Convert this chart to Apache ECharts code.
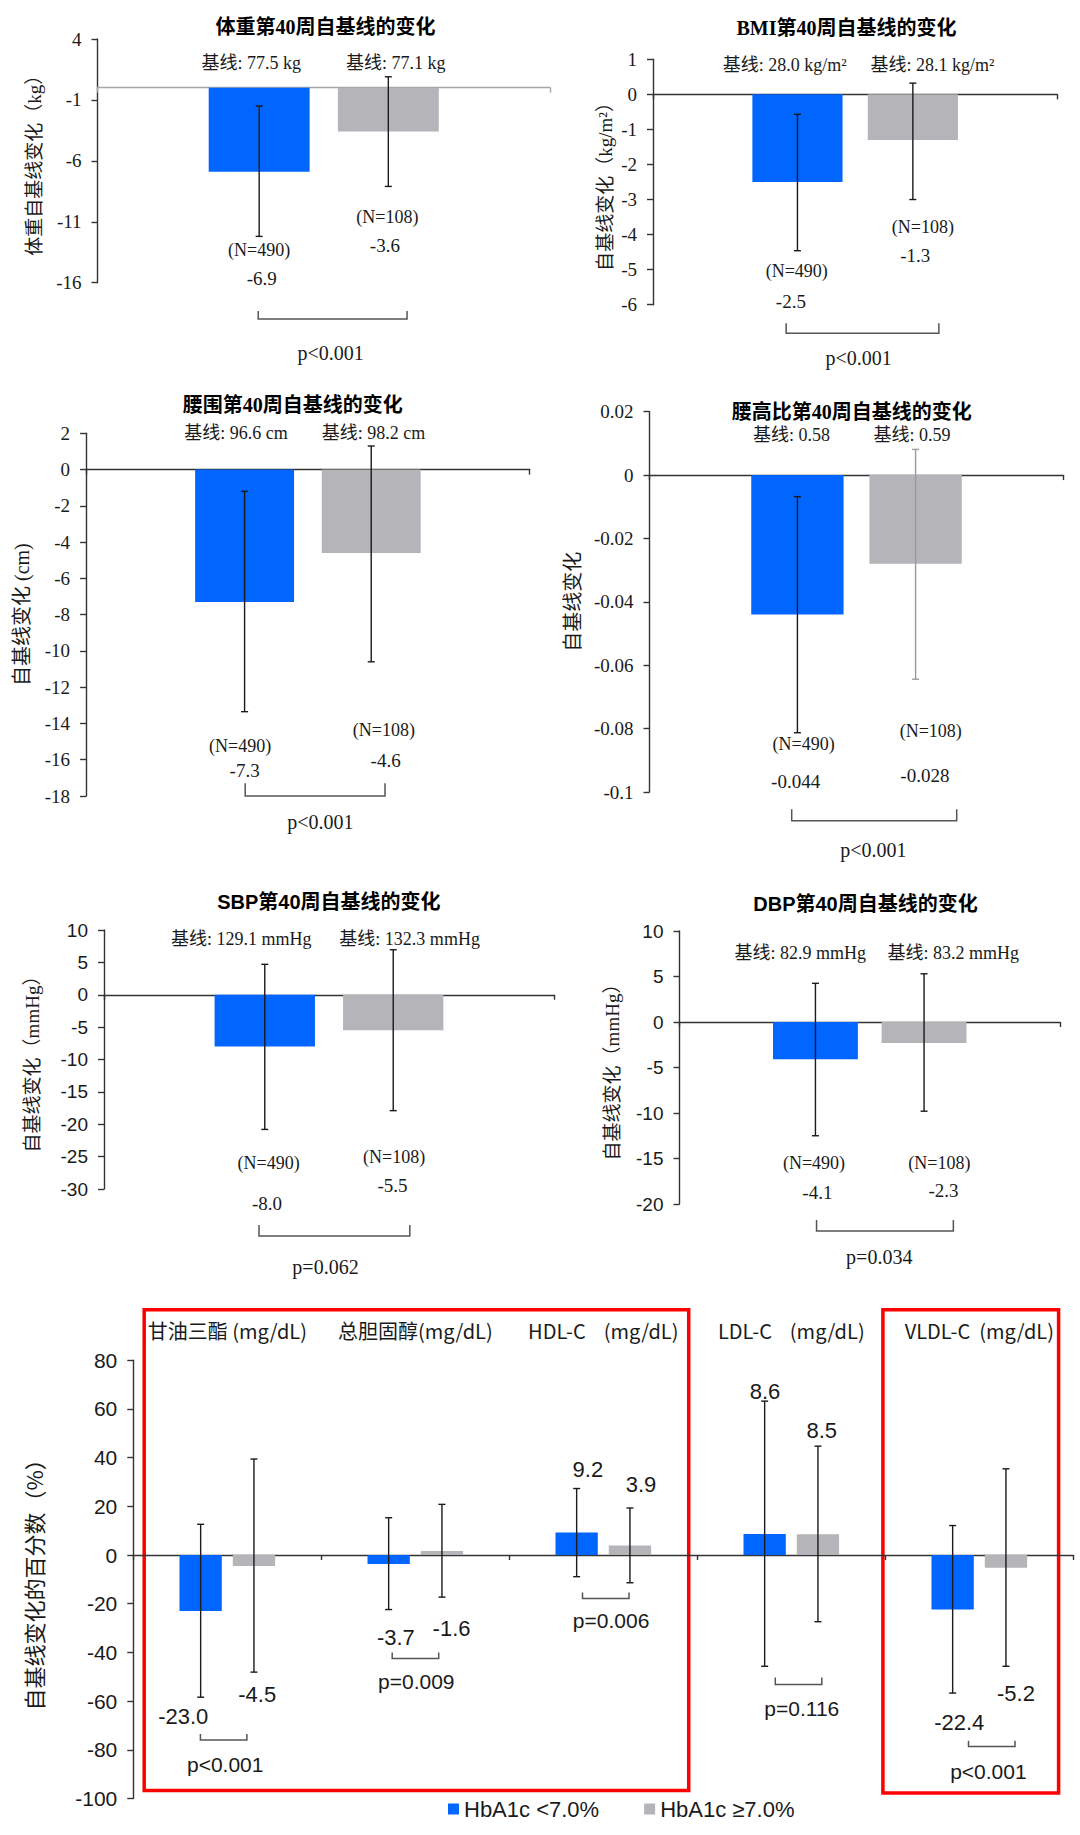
<!DOCTYPE html>
<html>
<head>
<meta charset="utf-8">
<script src="https://cdn.jsdelivr.net/npm/echarts@6/dist/echarts.min.js"></script>
<style>
html,body{margin:0;padding:0;background:#fff;}
#c{width:1080px;height:1835px;}
</style>
</head>
<body>
<div id="c"></div>
<script>
// ================= DATA =================
const groupNames = ['HbA1c <7.0%', 'HbA1c ≥7.0%'];
const groupN = [490, 108];

const panelTitles = ['体重第40周自基线的变化', 'BMI第40周自基线的变化', '腰围第40周自基线的变化',
                     '腰高比第40周自基线的变化', 'SBP第40周自基线的变化', 'DBP第40周自基线的变化'];
const axisNames = ['体重自基线变化（kg）', '自基线变化（kg/m²）', '自基线变化 (cm)', '自基线变化',
                   '自基线变化（mmHg）', '自基线变化（mmHg）', '自基线变化的百分数（%）'];

// 1 体重 (kg)
const weightTicks = [-16, -11, -6, -1, 4];
const weightChange = [-6.9, -3.6];
const weightErrLow = [-12.2, -8.1];
const weightErrHigh = [-1.5, 0.9];
const weightBaseline = ['77.5 kg', '77.1 kg'];
const weightP = ['p<0.001'];

// 2 BMI (kg/m2)
const bmiTicks = [-6, -5, -4, -3, -2, -1, 0, 1];
const bmiChange = [-2.5, -1.3];
const bmiErrLow = [-4.46, -3.0];
const bmiErrHigh = [-0.57, 0.32];
const bmiBaseline = ['28.0 kg/m²', '28.1 kg/m²'];
const bmiP = ['p<0.001'];

// 3 腰围 (cm)
const waistTicks = [-18, -16, -14, -12, -10, -8, -6, -4, -2, 0, 2];
const waistChange = [-7.3, -4.6];
const waistErrLow = [-13.35, -10.6];
const waistErrHigh = [-1.2, 1.3];
const waistBaseline = ['96.6 cm', '98.2 cm'];
const waistP = ['p<0.001'];

// 4 腰高比
const whtrTicks = [-0.1, -0.08, -0.06, -0.04, -0.02, 0, 0.02];
const whtrChange = [-0.044, -0.028];
const whtrErrLow = [-0.0813, -0.0644];
const whtrErrHigh = [-0.0068, 0.0081];
const whtrBaseline = ['0.58', '0.59'];
const whtrP = ['p<0.001'];

// 5 SBP (mmHg)
const sbpTicks = [-30, -25, -20, -15, -10, -5, 0, 5, 10];
const sbpChange = [-8.0, -5.5];
const sbpErrLow = [-20.8, -17.9];
const sbpErrHigh = [4.7, 6.95];
const sbpBaseline = ['129.1 mmHg', '132.3 mmHg'];
const sbpP = ['p=0.062'];

// 6 DBP (mmHg)
const dbpTicks = [-20, -15, -10, -5, 0, 5, 10];
const dbpChange = [-4.1, -2.3];
const dbpErrLow = [-12.5, -9.8];
const dbpErrHigh = [4.25, 5.3];
const dbpBaseline = ['82.9 mmHg', '83.2 mmHg'];
const dbpP = ['p=0.034'];

// 7 血脂 (% change)
const lipidTicks = [-100, -80, -60, -40, -20, 0, 20, 40, 60, 80];
const lipidCategories = ['甘油三酯 (mg/dL)', '总胆固醇(mg/dL)', 'HDL-C    (mg/dL)', 'LDL-C    (mg/dL)', 'VLDL-C  (mg/dL)'];
const lipidBlue = [-23.0, -3.7, 9.2, 8.6, -22.4];
const lipidGray = [-4.5, 1.6, 3.9, 8.5, -5.2];
const lipidBlueLabels = ['-23.0', '-3.7', '9.2', '8.6', '-22.4'];
const lipidGrayLabels = ['-4.5', '-1.6', '3.9', '8.5', '-5.2'];
const lipidBlueErrLow = [-58.4, -22.4, -8.9, -45.7, -56.7];
const lipidBlueErrHigh = [12.6, 15.3, 27.3, 63.2, 12.1];
const lipidGrayErrLow = [-48.1, -17.3, -11.4, -27.4, -45.7];
const lipidGrayErrHigh = [39.4, 20.8, 19.3, 44.7, 35.4];
const lipidP = ['p<0.001', 'p=0.009', 'p=0.006', 'p=0.116', 'p<0.001'];

// ================= STYLE / LAYOUT =================
const SERIF = "'Liberation Serif','Times New Roman','Noto Sans CJK SC',serif";
const SANS = "'Liberation Sans',Arial,'Noto Sans CJK SC',sans-serif";
const CJK = "'Noto Sans CJK SC','Liberation Sans',sans-serif";
const BLUE = '#0066FF';
const GRAY = '#B4B4B9';
const TXT = '#1a1a1a';

const serifAnn = { value: { size: 19, family: SERIF }, n: { size: 18, family: SERIF },
                   base: { size: 18, family: SERIF }, p: { size: 20, family: SERIF } };

const panels = [
  { values: weightChange, low: [weightErrLow], high: [weightErrHigh], baseline: weightBaseline, p: weightP, ticks: weightTicks, dec: 1,
    L: { grid: { left: 97.5, top: 39, width: 452.5, height: 243.7 }, bw: 0.223, gap: 0.28,
      zeroColor: '#A6A6A6', tickFont: SERIF, tickSize: 19, nameSize: 19, nameFont: SERIF, nameX: 34.4,
      title: { x: 325.5, y: 26.7, font: SERIF },
      vDx: [[2.5], [-3.5]], vY: [[278.3], [245]], nDx: [[0], [-1]], nY: [[250], [217.3]],
      bDx: [-8, 7.5], bY: 62.7, brX1: [-65.5], brX2: [83.3], brTop: [311], brBot: [319],
      pDx: [6.9], pY: [353.3], ann: serifAnn } },
  { values: bmiChange, low: [bmiErrLow], high: [bmiErrHigh], baseline: bmiBaseline, p: bmiP, ticks: bmiTicks, dec: 1,
    L: { grid: { left: 653, top: 59.3, width: 404.3, height: 245.4 }, bw: 0.223, gap: 0.28,
      zeroColor: '#333', tickFont: SERIF, tickSize: 19, nameSize: 19, nameFont: SERIF, nameX: 605.4,
      title: { x: 846.5, y: 28.3, font: SERIF },
      vDx: [[-6.6], [2.4]], vY: [[301.7], [255]], nDx: [[-0.7], [10]], nY: [[270.7], [226.7]],
      bDx: [-12.8, 19.6], bY: 65, brX1: [-69], brX2: [83.7], brTop: [323.3], brBot: [333.3],
      pDx: [3.5], pY: [358.3], ann: serifAnn } },
  { values: waistChange, low: [waistErrLow], high: [waistErrHigh], baseline: waistBaseline, p: waistP, ticks: waistTicks, dec: 1,
    L: { grid: { left: 86.1, top: 433.3, width: 443.6, height: 362.7 }, bw: 0.223, gap: 0.28,
      zeroColor: '#333', tickFont: SERIF, tickSize: 19, nameSize: 20, nameFont: SERIF, nameX: 22.4,
      title: { x: 292.7, y: 405, font: SERIF },
      vDx: [[0], [14.4]], vY: [[770], [760]], nDx: [[-4.5], [12.7]], nY: [[745.7], [730]],
      bDx: [-8.6, 2.4], bY: 433.3, brX1: [-62.7], brX2: [77.1], brTop: [783.3], brBot: [796],
      pDx: [12.4], pY: [821.7], ann: serifAnn } },
  { values: whtrChange, low: [whtrErrLow], high: [whtrErrHigh], baseline: whtrBaseline, p: whtrP, ticks: whtrTicks, dec: 3,
    L: { grid: { left: 649.5, top: 411.7, width: 414, height: 380.3 }, bw: 0.223, gap: 0.28,
      zeroColor: '#333', tickFont: SERIF, tickSize: 19, nameSize: 20, nameFont: CJK, nameX: 571,
      title: { x: 851.7, y: 411.7, font: SERIF }, errColor: ['#1a1a1a', '#9a9a9a'],
      vDx: [[-1.8], [9.3]], vY: [[781.7], [775]], nDx: [[6.2], [15.2]], nY: [[744.3], [730.7]],
      bDx: [-5.9, -3.7], bY: 435, brX1: [-64.8], brX2: [100.2], brTop: [809.3], brBot: [820.7],
      pDx: [16.8], pY: [850], ann: serifAnn } },
  { values: sbpChange, low: [sbpErrLow], high: [sbpErrHigh], baseline: sbpBaseline, p: sbpP, ticks: sbpTicks, dec: 1,
    L: { grid: { left: 104, top: 930, width: 450, height: 259 }, bw: 0.223, gap: 0.28,
      zeroColor: '#333', tickFont: SANS, tickSize: 19, nameSize: 19, nameFont: SERIF, nameX: 32.7,
      title: { x: 328.9, y: 902.3, font: SANS },
      vDx: [[2.2], [-0.8]], vY: [[1203.3], [1185]], nDx: [[3.9], [0.9]], nY: [[1163.3], [1157.3]],
      bDx: [-23.6, 16.4], bY: 939.3, brX1: [-70], brX2: [80.8], brTop: [1225], brBot: [1236],
      pDx: [-3.5], pY: [1266.7], ann: serifAnn } },
  { values: dbpChange, low: [dbpErrLow], high: [dbpErrHigh], baseline: dbpBaseline, p: dbpP, ticks: dbpTicks, dec: 1,
    L: { grid: { left: 679.5, top: 931, width: 380.5, height: 273 }, bw: 0.223, gap: 0.28,
      zeroColor: '#333', tickFont: SANS, tickSize: 19, nameSize: 19, nameFont: SERIF, nameX: 612.3,
      title: { x: 865.5, y: 904.3, font: SANS },
      vDx: [[1.9], [19.4]], vY: [[1192.7], [1190]], nDx: [[-1.5], [15.3]], nY: [[1163.3], [1163.3]],
      bDx: [-15.3, 29.1], bY: 952.7, brX1: [-53.2], brX2: [83.6], brTop: [1220], brBot: [1231],
      pDx: [9.5], pY: [1256.7], ann: serifAnn } }
];

// convert two-bar panels to per-series arrays
panels.forEach(function (P) {
  P.blue = [P.values[0]];
  P.gray = [P.values[1]];
  P.errLow = [[P.low[0][0]], [P.low[0][1]]];
  P.errHigh = [[P.high[0][0]], [P.high[0][1]]];
  P.labels = [[P.values[0].toFixed(P.dec)], [P.values[1].toFixed(P.dec)]];
  P.cats = [''];
});

panels.push({
  blue: lipidBlue, gray: lipidGray,
  errLow: [lipidBlueErrLow, lipidGrayErrLow], errHigh: [lipidBlueErrHigh, lipidGrayErrHigh],
  labels: [lipidBlueLabels, lipidGrayLabels], p: lipidP, ticks: lipidTicks, cats: lipidCategories,
  L: { grid: { left: 133.3, top: 1360.2, width: 940, height: 438.3 }, bw: 0.225, gap: 0.26,
    zeroColor: '#333', tickFont: SANS, tickSize: 21, nameSize: 22, nameFont: CJK, nameX: 32.7,
    vDx: [[-17.4, 7.2, 11.2, 0.4, 6.6], [3.3, 9.6, 11, 3.8, 10]],
    vY: [[1716.8, 1637.6, 1469.7, 1391.8, 1722.7], [1694.9, 1628.2, 1484.6, 1430.8, 1693.2]],
    brX1: [-26.9, -23.1, -20.8, -16, -10.8], brX2: [19.6, 23.4, 25.7, 30.5, 35.7],
    brTop: [1733.9, 1652.5, 1592.4, 1677.5, 1740.8], brBot: [1740.1, 1658.4, 1598.6, 1684.5, 1746.4],
    pDx: [-2.1, 1, 7.8, 10.5, 9.1], pY: [1764.4, 1681, 1620.2, 1708.8, 1771.4],
    ann: { value: { size: 22, family: SANS }, p: { size: 21, family: SANS } } }
});

function txt(text, x, y, f) {
  return { type: 'text', x: x, y: y, silent: true,
    style: { text: text, fill: TXT, fontSize: f.size, fontFamily: f.family, fontWeight: f.weight || 'normal',
      align: 'center', verticalAlign: 'middle', textAlign: 'center', textVerticalAlign: 'middle' } };
}

function makeRender(P) {
  const L = P.L;
  return function (params, api) {
    const i = params.dataIndex;
    const band = api.size([1, 0])[0];
    const center = api.coord([i, 0])[0];
    const off = L.bw * (1 + L.gap) / 2 * band;
    const bx = [center - off, center + off];
    const ch = [];
    const cap = 3.5;
    for (let s = 0; s < 2; s++) {
      const yLo = api.coord([i, P.errLow[s][i]])[1];
      const yHi = api.coord([i, P.errHigh[s][i]])[1];
      const col = L.errColor ? L.errColor[s] : '#1a1a1a';
      const st = { stroke: col, lineWidth: 1.4, fill: null };
      ch.push({ type: 'line', shape: { x1: bx[s], y1: yHi, x2: bx[s], y2: yLo }, style: st });
      ch.push({ type: 'line', shape: { x1: bx[s] - cap, y1: yHi, x2: bx[s] + cap, y2: yHi }, style: st });
      ch.push({ type: 'line', shape: { x1: bx[s] - cap, y1: yLo, x2: bx[s] + cap, y2: yLo }, style: st });
      ch.push(txt(P.labels[s][i], bx[s] + L.vDx[s][i], L.vY[s][i], L.ann.value));
      if (P.baseline) ch.push(txt('基线: ' + P.baseline[s], bx[s] + L.bDx[s], L.bY, L.ann.base));
      if (L.nY) ch.push(txt('(N=' + groupN[s] + ')', bx[s] + L.nDx[s][i], L.nY[s][i], L.ann.n));
    }
    const x1 = center + L.brX1[i], x2 = center + L.brX2[i];
    ch.push({ type: 'polyline',
      shape: { points: [[x1, L.brTop[i]], [x1, L.brBot[i]], [x2, L.brBot[i]], [x2, L.brTop[i]]] },
      style: { stroke: '#555', lineWidth: 1.5, fill: null } });
    ch.push(txt(P.p[i], center + L.pDx[i], L.pY[i], L.ann.p));
    return { type: 'group', children: ch };
  };
}

function tickFmt(v) { return String(Math.round(v * 1e6) / 1e6); }

const grids = [], xAxes = [], yAxes = [], series = [], graphics = [];

panels.forEach(function (P, k) {
  const L = P.L;
  grids.push(Object.assign({ containLabel: false, outerBoundsMode: 'none' }, L.grid));
  xAxes.push({
    gridIndex: k, type: 'category', data: P.cats, boundaryGap: true,
    axisLine: { show: true, onZero: true, lineStyle: { color: L.zeroColor, width: 1.4 } },
    axisTick: { show: true, length: 5, inside: false, interval: 0, lineStyle: { color: L.zeroColor, width: 1.4 } },
    axisLabel: { show: false }, splitLine: { show: false }
  });
  const t = P.ticks;
  yAxes.push({
    gridIndex: k, type: 'value', min: t[0], max: t[t.length - 1], interval: t[1] - t[0],
    axisLine: { show: true, lineStyle: { color: '#333', width: 1.4 } },
    axisTick: { show: true, length: 6, inside: false, lineStyle: { color: '#333', width: 1.4 } },
    splitLine: { show: false },
    axisLabel: { color: TXT, fontSize: L.tickSize, fontFamily: L.tickFont, margin: 16, formatter: tickFmt },
    name: axisNames[k], nameLocation: 'middle', nameRotate: 90, nameMoveOverlap: false,
    nameGap: (L.grid.left - L.nameX) - L.nameSize / 2,
    nameTextStyle: { color: TXT, fontSize: L.nameSize, fontFamily: L.nameFont }
  });
  series.push({ type: 'bar', name: groupNames[0], xAxisIndex: k, yAxisIndex: k, data: P.blue,
    barWidth: (L.bw * 100) + '%', barGap: (L.gap * 100) + '%', itemStyle: { color: BLUE }, silent: true, z: 2 });
  series.push({ type: 'bar', name: groupNames[1], xAxisIndex: k, yAxisIndex: k, data: P.gray,
    barWidth: (L.bw * 100) + '%', barGap: (L.gap * 100) + '%', itemStyle: { color: GRAY }, silent: true, z: 2 });
  series.push({ type: 'custom', xAxisIndex: k, yAxisIndex: k, clip: false, silent: true, z: 5,
    data: P.cats.map(function (c, i) { return [i, 0]; }), encode: { x: 0, y: 1 },
    renderItem: makeRender(P) });
  if (L.title) {
    graphics.push({ type: 'text', x: L.title.x, y: L.title.y, silent: true,
      style: { text: panelTitles[k], fill: '#000', fontSize: 20, fontWeight: 'bold', fontFamily: L.title.font,
        align: 'center', verticalAlign: 'middle', textAlign: 'center', textVerticalAlign: 'middle' } });
  }
});

// top category axis for lipid headers
xAxes.push({
  gridIndex: 6, type: 'category', position: 'top', data: lipidCategories,
  axisLine: { show: false, onZero: false }, axisTick: { show: false },
  axisLabel: { show: true, interval: 0, margin: 20, fontSize: 20, fontFamily: CJK, color: TXT }
});

// red highlight boxes
graphics.push({ type: 'rect', silent: true, shape: { x: 144.2, y: 1309.8, width: 544.5, height: 480.7 },
  style: { stroke: '#FF0000', fill: null, lineWidth: 3.5 } });
graphics.push({ type: 'rect', silent: true, shape: { x: 882.9, y: 1309.8, width: 175.7, height: 483.2 },
  style: { stroke: '#FF0000', fill: null, lineWidth: 3.5 } });

const chart = echarts.init(document.getElementById('c'), null, { renderer: 'svg', width: 1080, height: 1835 });
chart.setOption({
  animation: false,
  backgroundColor: '#fff',
  grid: grids,
  xAxis: xAxes,
  yAxis: yAxes,
  series: series,
  graphic: { elements: graphics },
  legend: {
    data: groupNames, left: 448, top: 1798, itemWidth: 11, itemHeight: 11, itemGap: 45, padding: 0,
    icon: 'rect', selectedMode: false,
    textStyle: { fontSize: 22, fontFamily: SANS, color: TXT }
  }
});
</script>
</body>
</html>
